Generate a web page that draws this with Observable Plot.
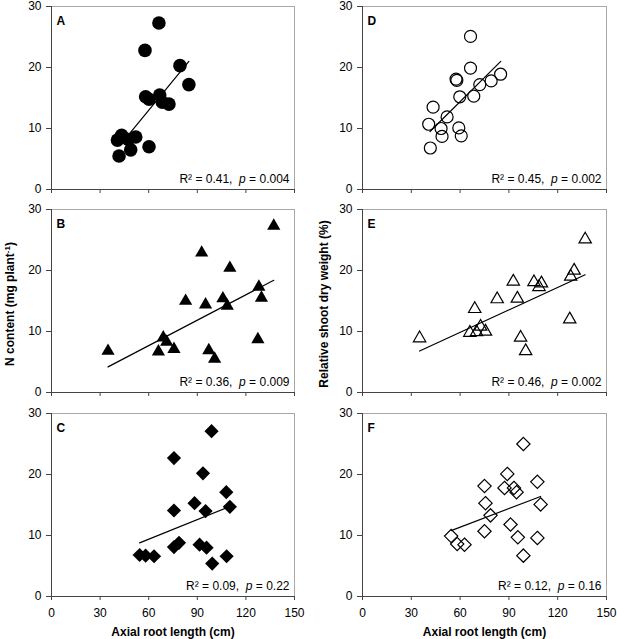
<!DOCTYPE html>
<html><head><meta charset="utf-8">
<script src="https://cdn.jsdelivr.net/npm/d3@7"></script>
<script src="https://cdn.jsdelivr.net/npm/@observablehq/plot@0.6"></script>
<style>
body{margin:0;background:#fff;}
#chart{position:relative;width:617px;height:639px;background:#fff;overflow:hidden;}
#chart svg{position:absolute;overflow:visible;}
</style></head><body><div id="chart"></div>
<script>
// ---- data ----
const xTicks = [0, 30, 60, 90, 120, 150];
const yTicks = [0, 10, 20, 30];
const xTitle = "Axial root length (cm)";
const yTitleLeft = "N content (mg plant-1)";
const yTitleRight = "Relative shoot dry weight (%)";
const letters = ["A", "B", "C", "D", "E", "F"];
const r2Values = ["0.41", "0.36", "0.09", "0.45", "0.46", "0.12"];
const pValues = ["0.004", "0.009", "0.22", "0.002", "0.002", "0.16"];

const aX = [66.3, 57.7, 79.3, 84.8, 58.1, 60.2, 66.8, 68.4, 72.5, 43.3, 40.7, 52.0, 47.5, 60.2, 48.9, 41.7];
const aY = [27.3, 22.8, 20.3, 17.2, 15.2, 14.8, 15.5, 14.3, 14.0, 8.9, 8.1, 8.6, 8.2, 7.0, 6.5, 5.5];
const aLineX = [48.3, 84.8];
const aLineY = [9.2, 21.0];

const bX = [137.2, 92.7, 110.1, 128.0, 129.6, 82.8, 95.1, 105.8, 108.5, 34.9, 69.0, 71.1, 66.0, 75.6, 97.1, 100.7, 127.4];
const bY = [27.3, 22.9, 20.4, 17.3, 15.5, 15.0, 14.4, 15.4, 14.2, 6.8, 9.0, 8.3, 6.7, 7.1, 6.9, 5.5, 8.7];
const bLineX = [34.9, 137.2];
const bLineY = [4.2, 18.4];

const cX = [98.8, 75.6, 93.5, 107.9, 88.3, 110.1, 95.1, 75.6, 54.4, 58.1, 63.3, 75.6, 78.7, 91.4, 95.7, 99.2, 108.1];
const cY = [27.1, 22.7, 20.2, 17.1, 15.3, 14.7, 14.0, 14.1, 6.8, 6.7, 6.6, 8.1, 8.8, 8.5, 8.0, 5.4, 6.6];
const cLineX = [54.4, 110.5];
const cLineY = [8.8, 14.8];

const dX = [66.4, 66.4, 57.5, 58.0, 84.9, 79.1, 72.1, 59.8, 68.4, 43.4, 52.0, 40.7, 48.3, 48.9, 59.2, 60.7, 41.7];
const dY = [25.1, 19.9, 18.1, 17.9, 18.9, 17.8, 17.2, 15.2, 15.3, 13.5, 11.9, 10.7, 10.0, 8.7, 10.1, 8.8, 6.8];
const dLineX = [41.5, 85.0];
const dLineY = [9.5, 21.0];

const eX = [136.9, 130.1, 128.0, 92.7, 105.4, 110.0, 108.5, 82.8, 95.2, 69.0, 35.1, 66.0, 72.6, 70.1, 75.6, 97.2, 100.3, 127.4];
const eY = [25.1, 20.0, 19.0, 18.2, 18.1, 17.9, 17.3, 15.3, 15.4, 13.7, 8.9, 9.8, 10.8, 9.9, 10.0, 9.0, 6.8, 12.0];
const eLineX = [35.1, 136.9];
const eLineY = [6.8, 19.3];

const fX = [98.9, 89.0, 87.3, 93.1, 94.7, 75.0, 107.5, 75.6, 109.5, 78.7, 75.0, 91.0, 95.5, 107.5, 98.9, 54.5, 58.2, 62.7];
const fY = [25.0, 20.1, 17.8, 17.8, 17.1, 18.1, 18.8, 15.3, 15.1, 13.3, 10.7, 11.8, 9.7, 9.6, 6.7, 9.9, 8.6, 8.5];
const fLineX = [54.5, 109.5];
const fLineY = [10.8, 16.4];

// ---- layout ----
const FONT = '"Liberation Sans", Arial, Helvetica, sans-serif';
const cols = [
  {left: 0, width: 300, ml: 51, mr: 6},
  {left: 310, width: 307, ml: 52, mr: 11}
];
const rows = [
  {top: 0, height: 200, mt: 6, mb: 11},
  {top: 200, height: 200, mt: 9, mb: 8},
  {top: 400, height: 239, mt: 13, mb: 43}
];

const panels = [
  {col: 0, row: 0, xs: aX, ys: aY, lx: aLineX, ly: aLineY, symbol: "circle", r: 6.8, filled: true},
  {col: 0, row: 1, xs: bX, ys: bY, lx: bLineX, ly: bLineY, symbol: "triangle", r: 4.9, filled: true, yTitle: yTitleLeft, yTitleDx: -41},
  {col: 0, row: 2, xs: cX, ys: cY, lx: cLineX, ly: cLineY, symbol: "diamond2", r: 6.4, filled: true, bottom: true},
  {col: 1, row: 0, xs: dX, ys: dY, lx: dLineX, ly: dLineY, symbol: "circle", r: 6.0, filled: false},
  {col: 1, row: 1, xs: eX, ys: eY, lx: eLineX, ly: eLineY, symbol: "triangle", r: 4.6, filled: false, yTitle: yTitleRight, yTitleDx: -38},
  {col: 1, row: 2, xs: fX, ys: fY, lx: fLineX, ly: fLineY, symbol: "diamond2", r: 6.0, filled: false, bottom: true}
];

const chart = document.getElementById("chart");
const NS = "http://www.w3.org/2000/svg";

panels.forEach((p, i) => {
  const c = cols[p.col], rw = rows[p.row];
  const pts = p.xs.map((x, j) => ({x, y: p.ys[j]}));
  const line = p.lx.map((x, j) => ({x, y: p.ly[j]}));
  const stat = `R² = ${r2Values[i]},  p = ${pValues[i]}`;
  const marks = [
    Plot.frame({stroke: "#a8a8a8"}),
    Plot.ruleX([0], {stroke: "#444"}),
    Plot.ruleY([0], {stroke: "#444"}),
    Plot.axisY(yTicks, {tickSize: 5, tickPadding: 5, label: null, stroke: "#444"}),
    p.bottom
      ? Plot.axisX(xTicks, {tickSize: 4, tickPadding: 8, label: null, stroke: "#444"})
      : Plot.axisX(xTicks, {tickSize: 4, fill: "none", label: null, stroke: "#444"}),
    Plot.line(line, {x: "x", y: "y", stroke: "#000", strokeWidth: 1.2}),
    Plot.dot(pts, {x: "x", y: "y", symbol: p.symbol, r: p.r,
      fill: p.filled ? "#000" : "none", stroke: p.filled ? "none" : "#000", strokeWidth: 1.2}),
    Plot.text([letters[i]], {text: d => d, frameAnchor: "top-left", dx: 5, dy: 10, fontWeight: "bold", fontSize: 12}),
    Plot.text([stat], {text: d => d, frameAnchor: "bottom-right", dx: -5, dy: -7, fontSize: 12})
  ];
  if (p.yTitle) {
    marks.push(Plot.text([p.yTitle], {text: d => d, frameAnchor: "left", dx: p.yTitleDx, dy: 3, rotate: -90,
      textAnchor: "middle", lineAnchor: "middle", fontWeight: "bold", fontSize: 12}));
  }
  if (p.bottom) {
    marks.push(Plot.text([xTitle], {text: d => d, frameAnchor: "bottom", dy: 39, fontWeight: "bold", fontSize: 12}));
  }
  const svg = Plot.plot({
    width: c.width, height: rw.height,
    marginLeft: c.ml, marginRight: c.mr, marginTop: rw.mt, marginBottom: rw.mb,
    x: {domain: [0, 150]},
    y: {domain: [0, 30]},
    style: {fontFamily: FONT, fontSize: "12px", color: "#000", background: "transparent", overflow: "visible"},
    marks
  });
  svg.style.left = c.left + "px";
  svg.style.top = rw.top + "px";
  // rich text: italic p, superscript -1
  svg.querySelectorAll("text").forEach(t => {
    const s = t.textContent;
    if (s.startsWith("R²")) {
      const m = s.match(/^(.*?)p(.*)$/);
      t.textContent = "";
      t.style.whiteSpace = "pre";
      const a = document.createElementNS(NS, "tspan"); a.textContent = m[1];
      const b = document.createElementNS(NS, "tspan"); b.textContent = "p"; b.setAttribute("font-style", "italic");
      const d = document.createElementNS(NS, "tspan"); d.textContent = m[2];
      t.append(a, b, d);
    } else if (s.endsWith("plant-1)")) {
      t.textContent = "";
      const a = document.createElementNS(NS, "tspan"); a.textContent = s.replace("-1)", "");
      const b = document.createElementNS(NS, "tspan"); b.textContent = "-1";
      b.setAttribute("baseline-shift", "super"); b.setAttribute("font-size", "8px");
      const d = document.createElementNS(NS, "tspan"); d.textContent = ")";
      t.append(a, b, d);
    }
  });
  chart.appendChild(svg);
});
</script>
</body></html>
